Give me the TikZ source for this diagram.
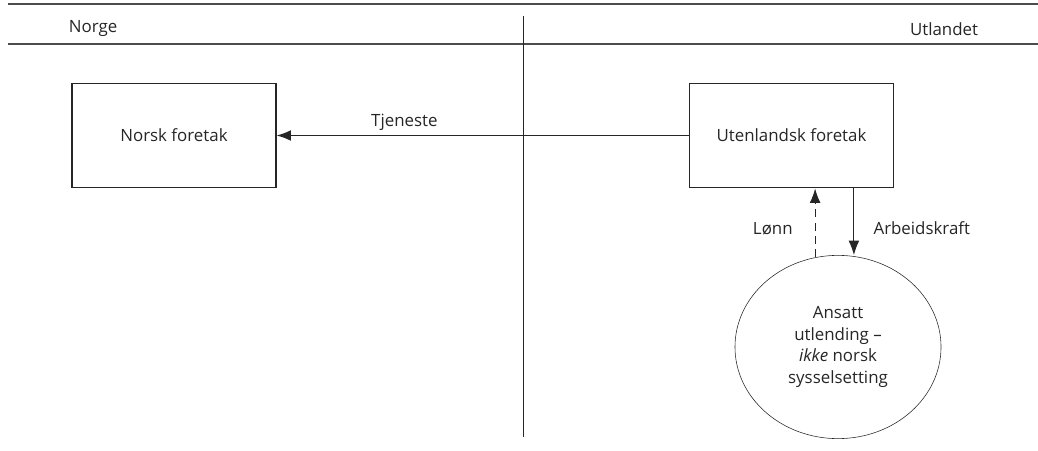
\documentclass[tikz,border=0pt]{standalone}
\usepackage{fontspec}
\setmainfont{Open Sans}
\usetikzlibrary{arrows.meta,positioning,shapes}

\begin{document}
\begin{tikzpicture}[
    x=0.025cm, y=-0.025cm,
    font=\fontsize{12}{15}\selectfont,
    color=black!85,
    firm/.style={rectangle, draw, thick, minimum width=5.1cm, minimum height=2.62cm},
    person/.style={ellipse, draw, thin, minimum width=5.15cm, minimum height=4.58cm, align=center, font=\fontsize{12}{15.6}\selectfont},
    arrow/.style={-{Latex[length=3.6mm,width=2.7mm]}, thick},
    rule/.style={line width=1.3pt, draw=black!70}
]
    \useasboundingbox (0,0) rectangle (1038,451);

    % header
    \draw[rule] (8,4) -- (1038,4);
    \draw[rule] (8,44) -- (1038,44);
    \draw[semithick] (523,16) -- (523,437);
    \node[anchor=west] (norge) at (64,29) {Norge};
    \node[anchor=east] (utland) at (983,29) {Utlandet};

    \node[firm] (norsk) at (174,135.5) {Norsk foretak};
    \node[firm] (uten) at (791.5,135.5) {Utenlandsk foretak};
    \node[person] (ansatt) at (838,347) {Ansatt\\ utlending --\\ \textit{ikke} norsk\\ sysselsetting};

    \draw[arrow] (uten) -- node[above, pos=0.69] {Tjeneste} (norsk);
    \draw[arrow] ([xshift=1.56cm]uten.south) -- node[right=0.36cm, yshift=-0.15cm] {Arbeidskraft} ([xshift=1.56cm]uten.south |- ansatt.north);
    \draw[arrow, dash pattern=on 0.2cm off 0.13cm] ([xshift=0.59cm]uten.south |- ansatt.north) ++(0,2) -- node[left=0.43cm, yshift=-0.15cm] {Lønn} ([xshift=0.59cm]uten.south);
\end{tikzpicture}
\end{document}
